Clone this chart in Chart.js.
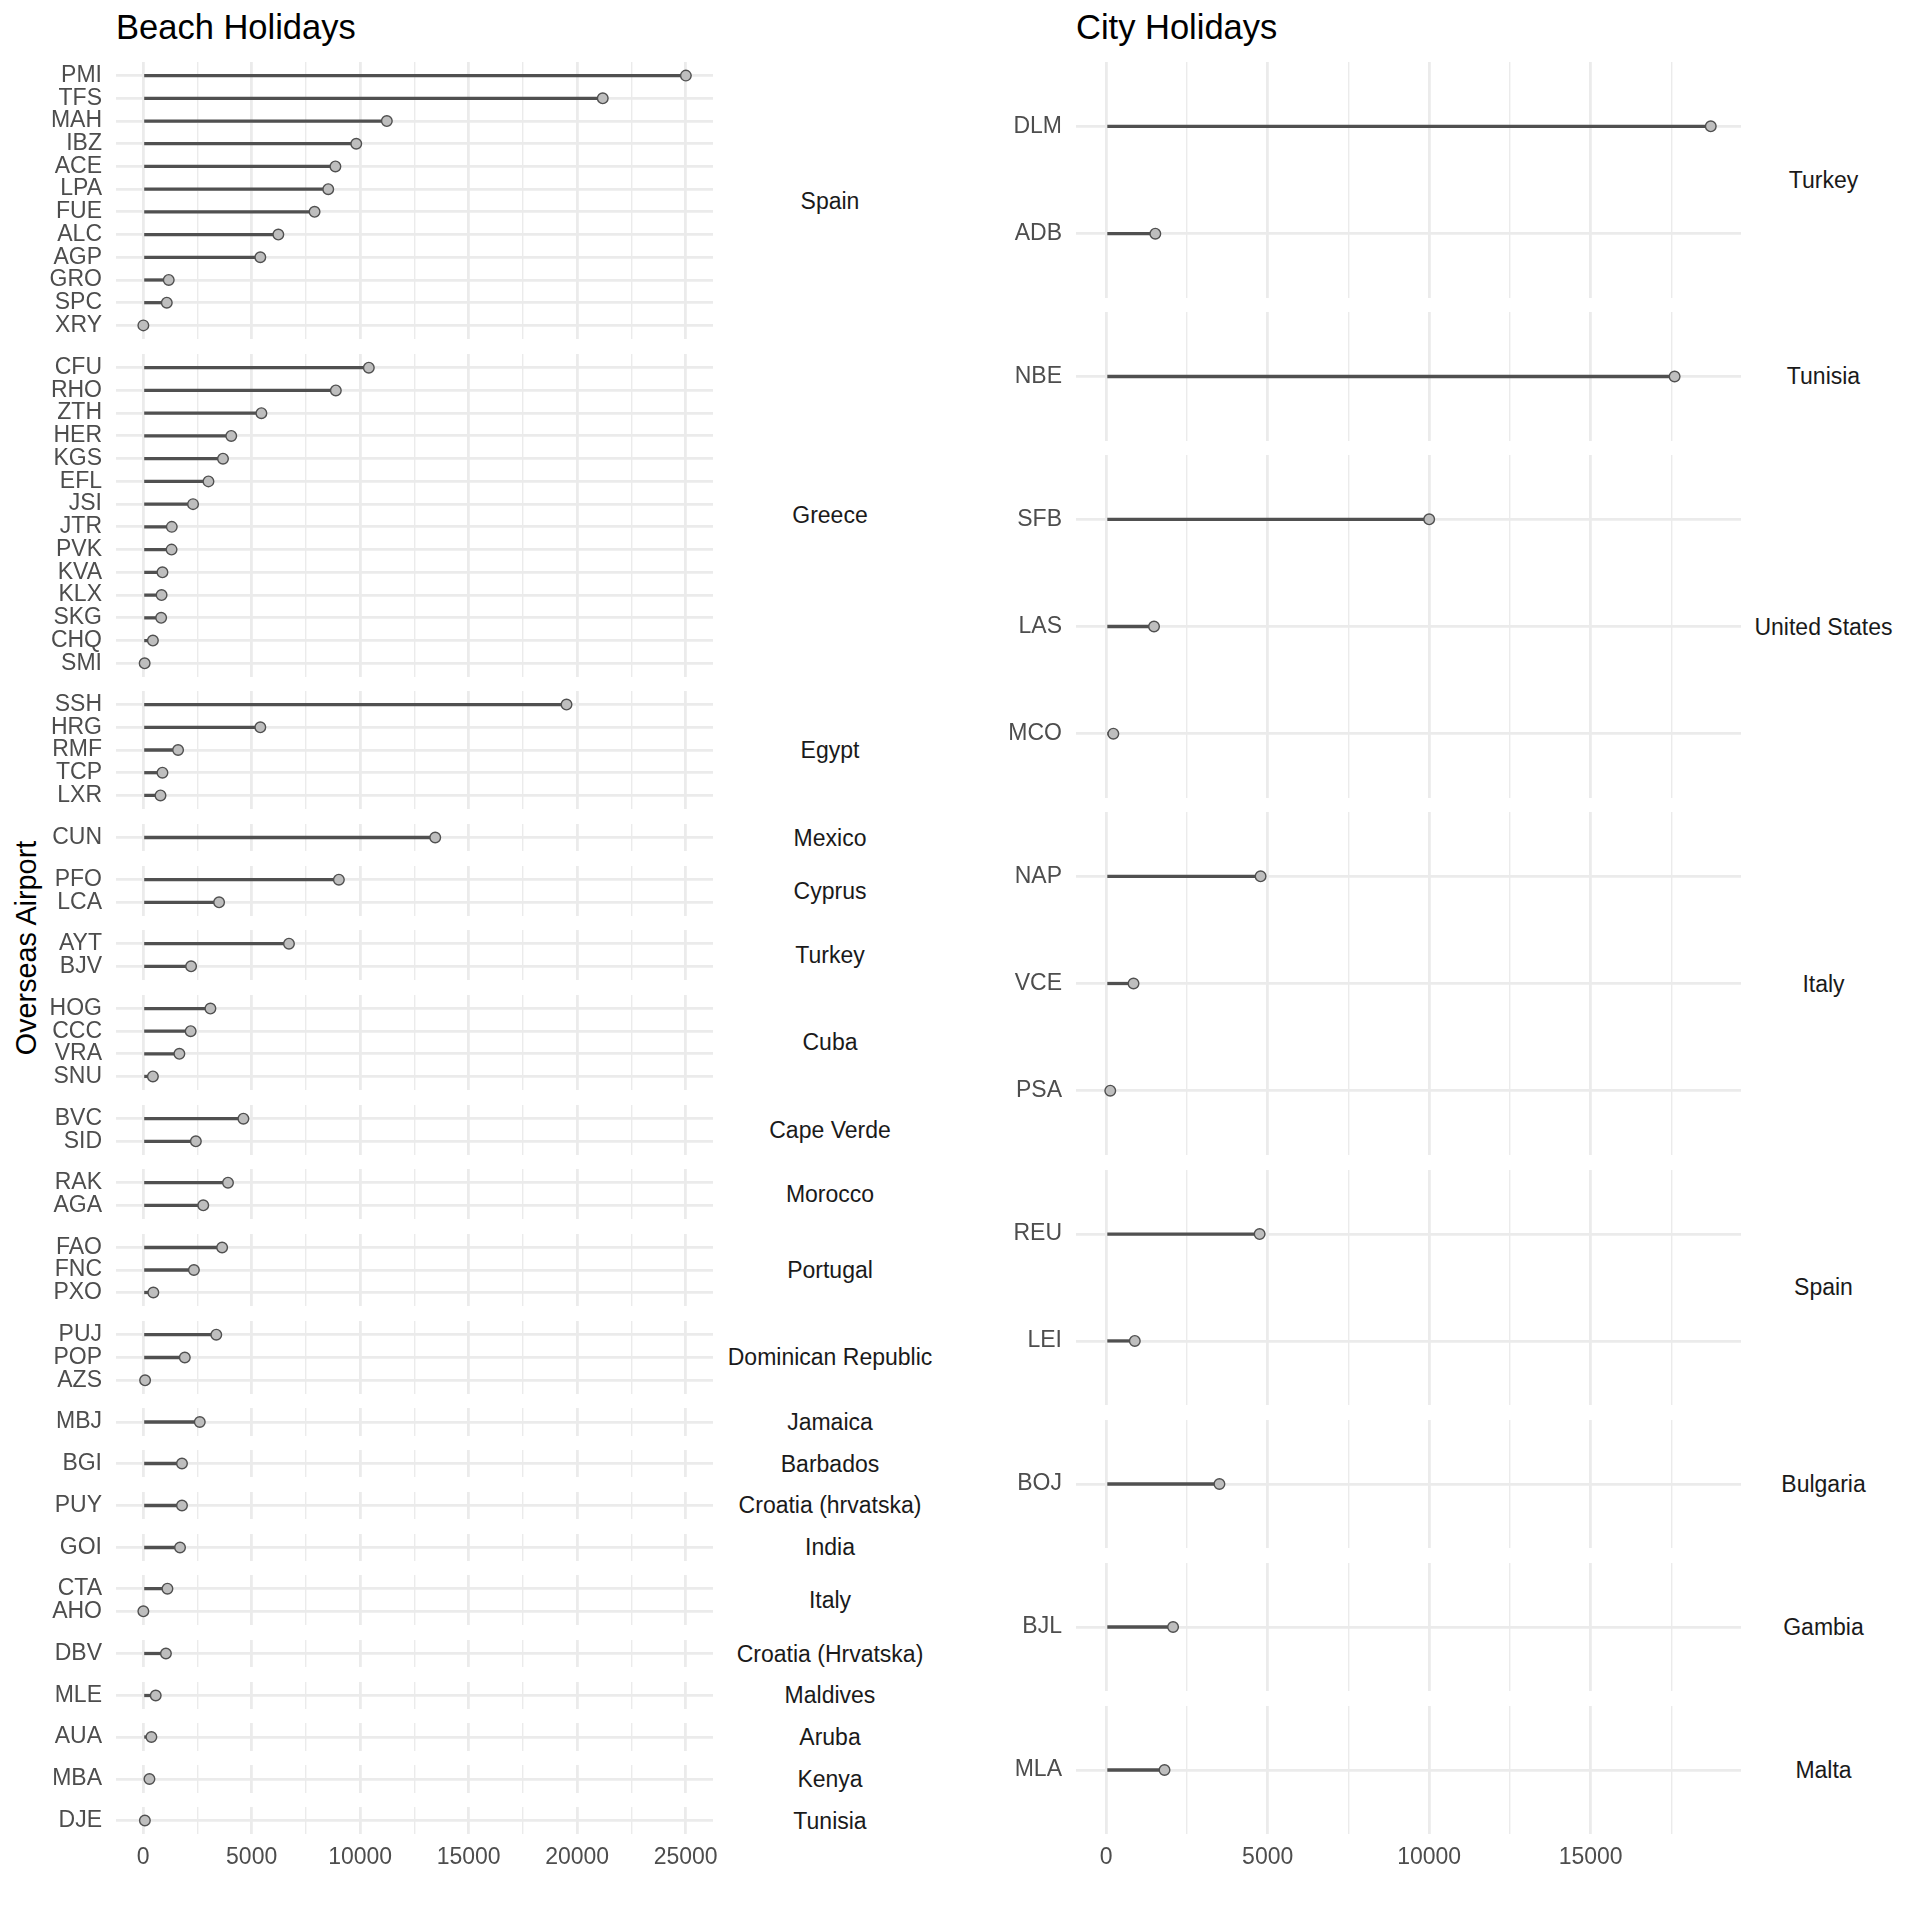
<!DOCTYPE html>
<html lang="en">
<head>
<meta charset="UTF-8">
<title>Beach and City Holidays</title>
<script src="https://cdn.jsdelivr.net/npm/chart.js"></script>
<style>
    body {
        margin: 0;
        background: #fff;
        font-family: "Liberation Sans", Arial, sans-serif;
    }
    #page {
        position: relative;
        width: 1920px;
        height: 1920px;
        overflow: hidden;
    }
    #page canvas {
        position: absolute;
    }
    .title {
        position: absolute;
        top: 10px;
        font-size: 34.5px;
        line-height: 1;
        color: #000;
        white-space: nowrap;
    }
    .axis-title {
        position: absolute;
        left: 25.5px;
        top: 948px;
        font-size: 28.8px;
        line-height: 1;
        color: #000;
        white-space: nowrap;
        transform: translate(-50%, -50%) rotate(-90deg);
    }
    .strip {
        position: absolute;
        font-size: 23px;
        line-height: 1;
        color: #1a1a1a;
        white-space: nowrap;
        transform: translate(-50%, -50%);
    }
</style>
</head>
<body>
<div id="page">
    <div class="title" style="left:116px">Beach Holidays</div>
    <div class="title" style="left:1076px">City Holidays</div>
    <div class="axis-title">Overseas Airport</div>
</div>
<script>
// ---- data (passengers per overseas airport, grouped by country) ----
const beachCountries = ['Spain', 'Greece', 'Egypt', 'Mexico', 'Cyprus', 'Turkey', 'Cuba', 'Cape Verde',
    'Morocco', 'Portugal', 'Dominican Republic', 'Jamaica', 'Barbados', 'Croatia (hrvatska)', 'India',
    'Italy', 'Croatia (Hrvatska)', 'Maldives', 'Aruba', 'Kenya', 'Tunisia'];
const beachAirports = [
    ['PMI', 'TFS', 'MAH', 'IBZ', 'ACE', 'LPA', 'FUE', 'ALC', 'AGP', 'GRO', 'SPC', 'XRY'],
    ['CFU', 'RHO', 'ZTH', 'HER', 'KGS', 'EFL', 'JSI', 'JTR', 'PVK', 'KVA', 'KLX', 'SKG', 'CHQ', 'SMI'],
    ['SSH', 'HRG', 'RMF', 'TCP', 'LXR'],
    ['CUN'],
    ['PFO', 'LCA'],
    ['AYT', 'BJV'],
    ['HOG', 'CCC', 'VRA', 'SNU'],
    ['BVC', 'SID'],
    ['RAK', 'AGA'],
    ['FAO', 'FNC', 'PXO'],
    ['PUJ', 'POP', 'AZS'],
    ['MBJ'], ['BGI'], ['PUY'], ['GOI'],
    ['CTA', 'AHO'],
    ['DBV'], ['MLE'], ['AUA'], ['MBA'], ['DJE']
];
const beachPassengers = [
    [25010, 21180, 11230, 9820, 8860, 8530, 7900, 6230, 5400, 1180, 1090, 10],
    [10400, 8880, 5450, 4060, 3680, 3010, 2300, 1320, 1310, 890, 850, 830, 450, 70],
    [19510, 5400, 1610, 890, 800],
    [13460],
    [9020, 3500],
    [6720, 2210],
    [3100, 2190, 1670, 450],
    [4620, 2430],
    [3910, 2770],
    [3640, 2340, 470],
    [3370, 1920, 90],
    [2610], [1790], [1790], [1700],
    [1120, 10],
    [1050], [580], [380], [290], [80]
];
const beachTicks = [0, 5000, 10000, 15000, 20000, 25000];

const cityCountries = ['Turkey', 'Tunisia', 'United States', 'Italy', 'Spain', 'Bulgaria', 'Gambia', 'Malta'];
const cityAirports = [
    ['DLM', 'ADB'],
    ['NBE'],
    ['SFB', 'LAS', 'MCO'],
    ['NAP', 'VCE', 'PSA'],
    ['REU', 'LEI'],
    ['BOJ'], ['BJL'], ['MLA']
];
const cityPassengers = [
    [18720, 1520],
    [17600],
    [10000, 1480, 220],
    [4780, 845, 125],
    [4750, 885],
    [3505], [2070], [1805]
];
const cityTicks = [0, 5000, 10000, 15000];

// ---- layout ----
const PANEL_TOP = 62;
const PANEL_BOTTOM = 1834.3;
const GAP = 14.5;
const EXPAND = 0.6;
const AXIS_W = 116;

const SEGMENT = '#505050';
const GRID = '#ebebeb';
const TEXT = '#4d4d4d';

Chart.defaults.font.family = '"Liberation Sans", Arial, sans-serif';
Chart.defaults.color = TEXT;

const page = document.getElementById('page');

function drawSide(side) {
    const nRows = side.airports.reduce((s, a) => s + a.length - 1 + 2 * EXPAND, 0);
    const unit = (PANEL_BOTTOM - PANEL_TOP - GAP * (side.airports.length - 1)) / nRows;
    const maxVal = Math.max(...side.passengers.flat());
    const xMin = -0.05 * maxVal;
    const xMax = 1.05 * maxVal;
    const half = (side.ticks[1] - side.ticks[0]) / 2;
    const gridVals = [];
    for (let v = side.ticks[0]; v <= xMax; v += half) gridVals.push(v);

    let y = PANEL_TOP;
    side.airports.forEach((codes, k) => {
        const vals = side.passengers[k];
        const h = (codes.length - 1 + 2 * EXPAND) * unit;
        const last = k === side.airports.length - 1;
        const top = Math.round(y);
        const panelH = Math.round(y + h) - top;

        const strip = document.createElement('div');
        strip.className = 'strip';
        strip.textContent = side.countries[k];
        strip.style.left = side.stripX + 'px';
        strip.style.top = (y + h / 2) + 'px';
        page.appendChild(strip);

        const canvas = document.createElement('canvas');
        canvas.width = AXIS_W + side.panelW + 30;
        canvas.height = panelH + (last ? 60 : 0);
        canvas.style.left = side.left + 'px';
        canvas.style.top = top + 'px';
        page.appendChild(canvas);

        const points = vals.map((v, i) => ({x: v, y: i}));

        new Chart(canvas, {
            type: 'bar',
            data: {
                datasets: [
                    {
                        type: 'line',
                        data: points,
                        showLine: false,
                        pointRadius: 5.3,
                        pointBorderWidth: 1.4,
                        pointBackgroundColor: '#bebebe',
                        pointBorderColor: SEGMENT,
                        clip: false,
                        order: 0
                    },
                    {
                        type: 'bar',
                        data: points,
                        backgroundColor: SEGMENT,
                        borderWidth: 0,
                        barThickness: 2.6,
                        order: 1
                    }
                ]
            },
            options: {
                indexAxis: 'y',
                responsive: false,
                animation: false,
                events: [],
                layout: {
                    autoPadding: false,
                    padding: {left: 0, top: 0, bottom: 0, right: 30}
                },
                plugins: {
                    legend: {display: false},
                    tooltip: {enabled: false}
                },
                scales: {
                    x: {
                        type: 'linear',
                        position: 'bottom',
                        min: xMin,
                        max: xMax,
                        afterBuildTicks: s => { s.ticks = gridVals.map(v => ({value: v})); },
                        afterFit: s => {
                            s.height = last ? 60 : 0;
                            s.paddingLeft = 0;
                            s.paddingRight = 0;
                        },
                        border: {display: false},
                        grid: {
                            color: GRID,
                            drawTicks: false,
                            lineWidth: c => (c.tick && side.ticks.includes(c.tick.value)) ? 2.8 : 1.4
                        },
                        ticks: {
                            display: last,
                            autoSkip: false,
                            maxRotation: 0,
                            minRotation: 0,
                            padding: 10,
                            font: {size: 23},
                            color: TEXT,
                            callback: v => side.ticks.includes(v) ? String(v) : ''
                        }
                    },
                    y: {
                        type: 'linear',
                        reverse: true,
                        offset: false,
                        min: -EXPAND,
                        max: codes.length - 1 + EXPAND,
                        afterBuildTicks: s => { s.ticks = codes.map((c, i) => ({value: i})); },
                        afterFit: s => {
                            s.width = AXIS_W;
                            s.paddingTop = 0;
                            s.paddingBottom = 0;
                        },
                        border: {display: false},
                        grid: {
                            offset: false,
                            color: GRID,
                            lineWidth: 2.8,
                            drawTicks: false
                        },
                        ticks: {
                            autoSkip: false,
                            padding: 14,
                            font: {size: 23, lineHeight: 1},
                            color: TEXT,
                            callback: v => codes[v]
                        }
                    }
                }
            }
        });

        y += h + GAP;
    });
}

drawSide({
    countries: beachCountries,
    airports: beachAirports,
    passengers: beachPassengers,
    ticks: beachTicks,
    left: 0,
    panelW: 597,
    stripX: 830
});

drawSide({
    countries: cityCountries,
    airports: cityAirports,
    passengers: cityPassengers,
    ticks: cityTicks,
    left: 960,
    panelW: 665,
    stripX: 1823.5
});
</script>
</body>
</html>
